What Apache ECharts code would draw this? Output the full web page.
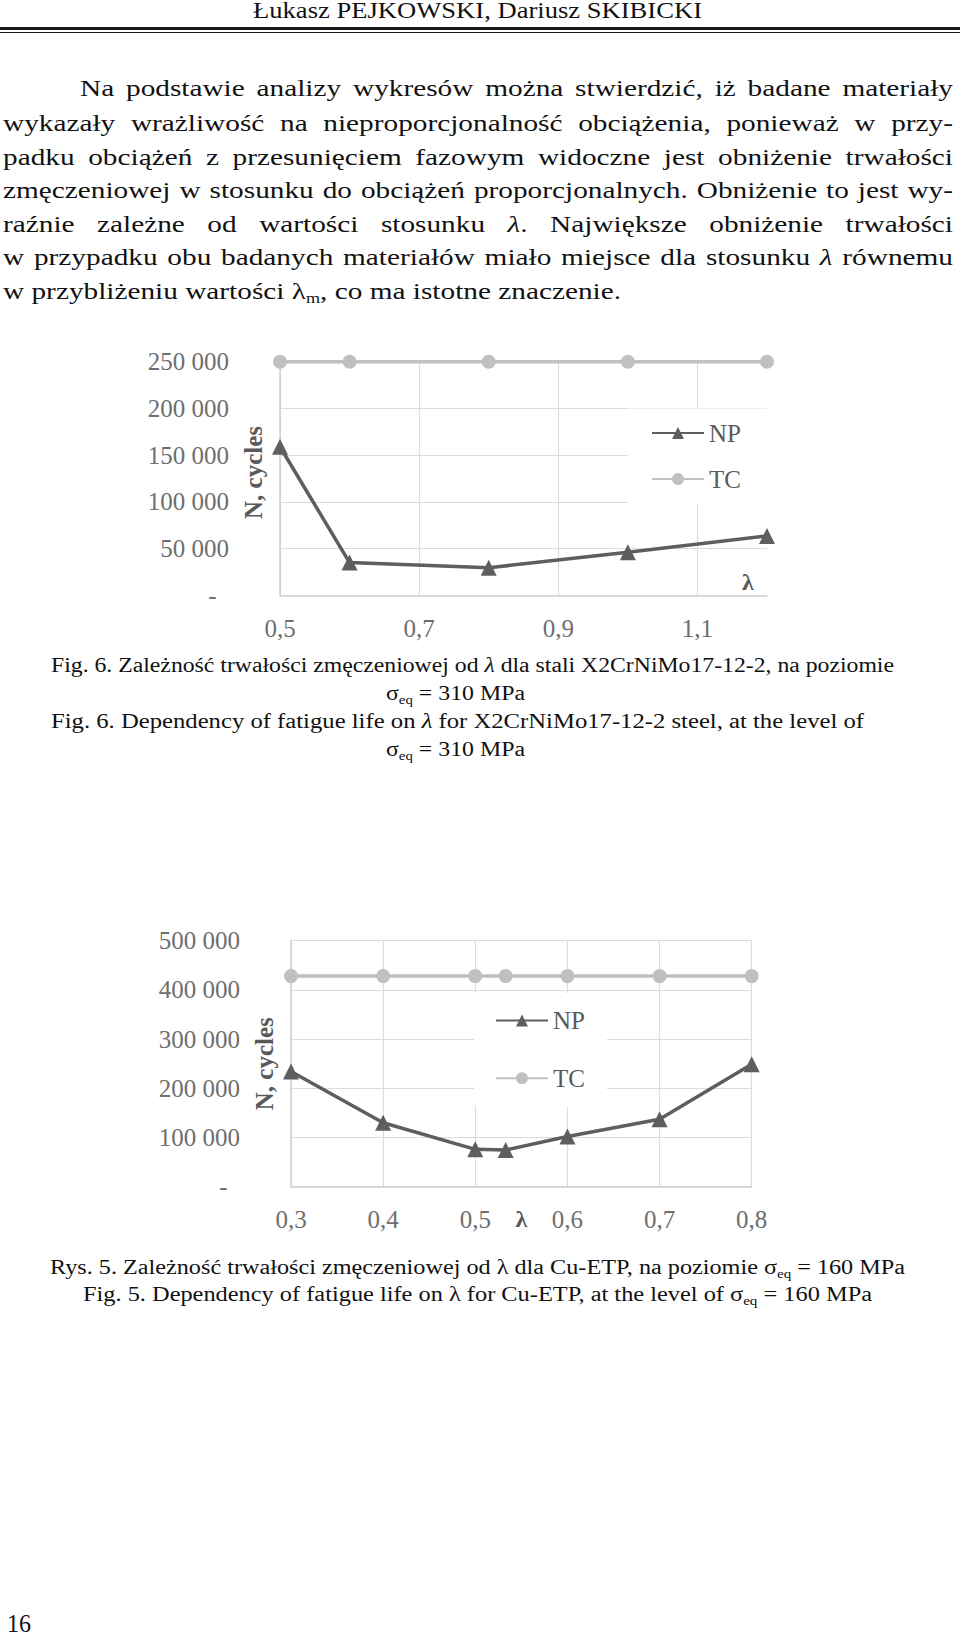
<!DOCTYPE html>
<html>
<head>
<meta charset="utf-8">
<script src="https://cdn.jsdelivr.net/npm/echarts@6/dist/echarts.min.js"></script>
<style>
  html, body { margin: 0; padding: 0; background: #fff; }
  body { width: 960px; height: 1638px; position: relative; overflow: hidden;
         font-family: 'Liberation Serif', 'Times New Roman', serif; color: #111; }
  .ln { position: absolute; white-space: nowrap; transform-origin: 0 0; display: inline-block; }
  .sb { font-size: 0.62em; vertical-align: -0.28em; line-height: 0; }
  .rule1 { position: absolute; left: 0; width: 960px; top: 26.5px; height: 3px; background: #1a1a1a; }
  .rule2 { position: absolute; left: 0; width: 960px; top: 31.5px; height: 1.5px; background: #1a1a1a; }
  .chart { position: absolute; left: 0; width: 960px; }
</style>
</head>
<body>
<div class="ln" data-l="253" data-r="702" data-b="19" data-f="22.7">Łukasz PEJKOWSKI, Dariusz SKIBICKI</div>
<div class="rule1"></div>
<div class="rule2"></div>

<div class="ln" data-j="1" data-l="80" data-r="953" data-b="97" data-f="23.5">Na podstawie analizy wykresów można stwierdzić, iż badane materiały</div>
<div class="ln" data-j="1" data-l="3" data-r="953" data-b="131.5" data-f="23.5">wykazały wrażliwość na nieproporcjonalność obciążenia, ponieważ w&nbsp;przy-</div>
<div class="ln" data-j="1" data-l="3" data-r="953" data-b="165.5" data-f="23.5">padku obciążeń z&nbsp;przesunięciem fazowym widoczne jest obniżenie trwałości</div>
<div class="ln" data-j="1" data-l="3" data-r="953" data-b="199" data-f="23.5">zmęczeniowej w stosunku do obciążeń proporcjonalnych. Obniżenie to jest wy-</div>
<div class="ln" data-j="1" data-l="3" data-r="953" data-b="232.5" data-f="23.5">raźnie zależne od wartości stosunku <i>λ</i>. Największe obniżenie trwałości</div>
<div class="ln" data-j="1" data-l="3" data-r="953" data-b="266" data-f="23.5">w przypadku obu badanych materiałów miało miejsce dla stosunku <i>λ</i> równemu</div>
<div class="ln" data-ref="1" data-l="3" data-r="621" data-b="299.3" data-f="23.5">w przybliżeniu wartości λ<span class="sb">m</span>, co ma istotne znaczenie.</div>

<div id="c1" class="chart" style="top:330px;height:320px;"></div>

<div class="ln" data-l="51" data-r="894" data-b="672.5" data-f="20.5">Fig. 6. Zależność trwałości zmęczeniowej od <i>λ</i> dla stali X2CrNiMo17-12-2, na poziomie</div>
<div class="ln" data-l="386" data-r="525" data-b="700.5" data-f="20.5">σ<span class="sb">eq</span> = 310 MPa</div>
<div class="ln" data-l="51" data-r="864" data-b="728" data-f="20.5">Fig. 6. Dependency of fatigue life on <i>λ</i> for X2CrNiMo17-12-2 steel, at the level of</div>
<div class="ln" data-l="386" data-r="525" data-b="756" data-f="20.5">σ<span class="sb">eq</span> = 310 MPa</div>

<div id="c2" class="chart" style="top:900px;height:340px;"></div>

<div class="ln" data-l="50" data-r="905" data-b="1274" data-f="20.5">Rys. 5. Zależność trwałości zmęczeniowej od λ dla Cu-ETP, na poziomie σ<span class="sb">eq</span> = 160 MPa</div>
<div class="ln" data-l="83" data-r="872" data-b="1301" data-f="20.5">Fig. 5. Dependency of fatigue life on λ for Cu-ETP, at the level of σ<span class="sb">eq</span> = 160 MPa</div>

<div class="ln" data-l="7" data-r="31" data-b="1633" data-f="26">16</div>

<script>
// ---------- data ----------
const seriesNames = ['NP', 'TC'];

// Fig. 6 (X2CrNiMo17-12-2)
const fig6Lambda = [0.5, 0.6, 0.8, 1.0, 1.2];
const fig6NP = [159000, 35000, 29500, 46000, 63500];
const fig6TC = [250000, 250000, 250000, 250000, 250000];
const fig6XTicks = [0.5, 0.7, 0.9, 1.1];
const fig6YMax = 250000;
const fig6YStep = 50000;

// Rys. 5 (Cu-ETP)
const fig5Lambda = [0.3, 0.4, 0.5, 0.533, 0.6, 0.7, 0.8];
const fig5NP = [234000, 130000, 76000, 74500, 102000, 137000, 249000];
const fig5TC = [428000, 428000, 428000, 428000, 428000, 428000, 428000];
const fig5YMax = 500000;
const fig5YStep = 100000;

const axisNameY = 'N, cycles';
const axisNameX = 'λ';

// ---------- text lines layout ----------
const lines = Array.from(document.querySelectorAll('.ln'));
let paraScale = 1.17;
function place(el) {
  const l = +el.dataset.l, b = +el.dataset.b, f = +el.dataset.f;
  el.style.fontSize = f + 'px';
  el.style.lineHeight = f + 'px';
  el.style.left = l + 'px';
  el.style.top = (b - 0.8375 * f) + 'px';
}
lines.forEach(place);
// non-justified lines: fit to measured extent
lines.filter(el => !el.dataset.j).forEach(el => {
  const w = el.getBoundingClientRect().width;
  const s = (+el.dataset.r - +el.dataset.l) / w;
  el.style.transform = 'scaleX(' + s + ')';
  if (el.dataset.ref) paraScale = s;
});
// justified paragraph lines: same glyph stretch as the paragraph's last line
lines.filter(el => el.dataset.j).forEach(el => {
  const target = +el.dataset.r - +el.dataset.l;
  const w = el.getBoundingClientRect().width;
  let s = paraScale;
  if (w * s > target - 2) s = target / (w + 2);
  el.style.display = 'block';
  el.style.whiteSpace = 'normal';
  el.style.width = (target / s) + 'px';
  el.style.textAlign = 'justify';
  el.style.textAlignLast = 'justify';
  el.style.transform = 'scaleX(' + s + ')';
});

// ---------- charts ----------
const FONT = "'Liberation Serif', 'Times New Roman', serif";
const C_NP = '#5e5e5e';
const C_TC = '#c0c0c0';
const C_LABEL = '#6e6e6e';
const C_NAME = '#595959';
const C_GRID = '#dcdcdc';
const C_AXIS = '#d0d0d0';

function fmtY(v) {
  if (v === 0) return '-\u00a0\u00a0';
  return String(Math.round(v)).replace(/\B(?=(\d{3})+(?!\d))/g, ' ');
}
function fmtX(v) {
  return (Math.round(v * 10) / 10).toFixed(1).replace('.', ',');
}
function pairs(xs, ys) { return xs.map((x, i) => [x, ys[i]]); }

function buildOption(c) {
  return {
    animation: false,
    grid: { left: c.grid[0], top: c.grid[1], width: c.grid[2], height: c.grid[3], outerBoundsMode: 'none' },
    legend: {
      data: seriesNames,
      orient: 'vertical',
      left: c.legend.left, top: c.legend.top,
      padding: c.legend.padding,
      itemGap: c.legend.gap,
      itemWidth: 52, itemHeight: 15,
      backgroundColor: '#ffffff',
      textStyle: { fontFamily: FONT, fontSize: 25, lineHeight: 24, color: C_NAME },
      selectedMode: false
    },
    xAxis: Object.assign({
      type: 'value',
      min: c.xMin, max: c.xMax,
      name: axisNameX,
      nameLocation: c.xName.loc,
      nameGap: c.xName.gap,
      nameMoveOverlap: false,
      nameTextStyle: Object.assign({ fontFamily: FONT, fontSize: 24, fontWeight: 'bold', color: C_NAME }, c.xName.style || {}),
      axisLine: { show: true, lineStyle: { color: C_AXIS, width: 1.5 } },
      axisTick: Object.assign({ show: false }, c.xTickCustom ? { customValues: c.xTickCustom } : {}),
      axisLabel: Object.assign({ fontFamily: FONT, fontSize: 25, color: C_LABEL, margin: c.xLabelMargin, formatter: fmtX, hideOverlap: false },
                               c.xTickCustom ? { customValues: c.xTickCustom } : {}),
      splitLine: { show: true, lineStyle: { color: C_GRID, width: 1.2 } }
    }, c.xInterval ? { interval: c.xInterval } : {}),
    yAxis: {
      type: 'value',
      min: 0, max: c.yMax, interval: c.yStep,
      name: axisNameY,
      nameLocation: 'middle',
      nameGap: 14,
      nameMoveOverlap: false,
      nameTextStyle: { fontFamily: FONT, fontSize: 25, fontWeight: 'bold', color: C_NAME, padding: c.yNamePad },
      axisLine: { show: true, lineStyle: { color: C_AXIS, width: 1.5 } },
      axisTick: { show: false },
      axisLabel: { fontFamily: FONT, fontSize: 25, color: C_LABEL, margin: 51, formatter: fmtY },
      splitLine: { show: true, lineStyle: { color: C_GRID, width: 1.2 } }
    },
    series: [
      {
        name: 'TC', type: 'line', data: pairs(c.x, c.tc),
        symbol: 'circle', symbolSize: 14,
        lineStyle: { color: C_TC, width: 3.5 },
        itemStyle: { color: C_TC },
        z: 3
      },
      {
        name: 'NP', type: 'line', data: pairs(c.x, c.np),
        symbol: 'triangle', symbolSize: 16,
        lineStyle: { color: C_NP, width: 3.5 },
        itemStyle: { color: C_NP },
        z: 3
      }
    ]
  };
}

const chart1 = echarts.init(document.getElementById('c1'), null, { renderer: 'svg' });
chart1.setOption(buildOption({
  grid: [280, 31.7, 487, 233.6],
  legend: { left: 628, top: 78.5, padding: [12, 30, 12, 23], gap: 21 },
  x: fig6Lambda, np: fig6NP, tc: fig6TC,
  xMin: 0.5, xMax: 1.2, xTickCustom: fig6XTicks,
  xName: { loc: 'end', gap: -25, style: { verticalAlign: 'bottom', lineHeight: 24, padding: [0, 0, 1, 0] } },
  xLabelMargin: 21,
  yMax: fig6YMax, yStep: fig6YStep,
  yNamePad: [0, 0, 0, 12]
}));

const chart2 = echarts.init(document.getElementById('c2'), null, { renderer: 'svg' });
chart2.setOption(buildOption({
  grid: [291, 40.7, 460.7, 246],
  legend: { left: 474, top: 93, padding: [15, 22, 16, 21], gap: 32.7 },
  x: fig5Lambda, np: fig5NP, tc: fig5TC,
  xMin: 0.3, xMax: 0.8, xInterval: 0.1,
  xName: { loc: 'middle', gap: 20, style: { lineHeight: 24 } },
  xLabelMargin: 20,
  yMax: fig5YMax, yStep: fig5YStep,
  yNamePad: [0, 0, 0, 0]
}));
</script>
</body>
</html>
